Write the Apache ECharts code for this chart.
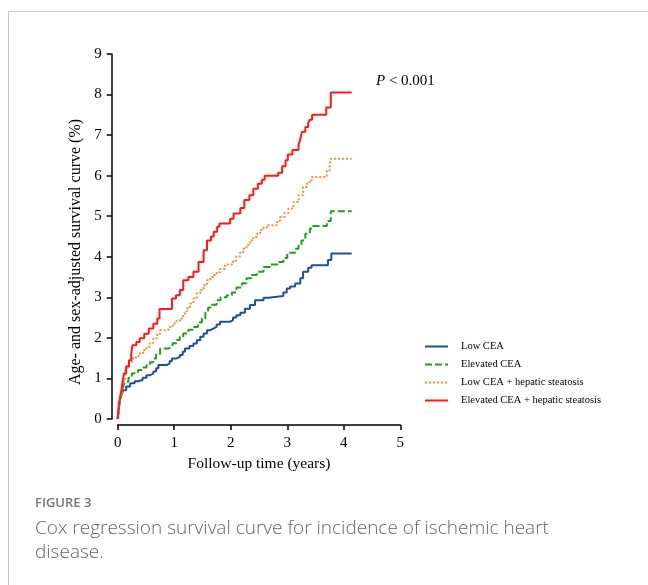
<!DOCTYPE html>
<html>
<head>
<meta charset="utf-8">
<script src="https://cdn.jsdelivr.net/npm/echarts@6/dist/echarts.min.js"></script>
<style>
html,body{margin:0;padding:0;background:#fff;}
#chart{width:648px;height:585px;}
</style>
</head>
<body>
<div id="chart"></div>
<script>
// ---- data ----
var seriesNames = ['Low CEA', 'Elevated CEA', 'Low CEA + hepatic steatosis', 'Elevated CEA + hepatic steatosis'];
var xTicks = [0, 1, 2, 3, 4, 5];
var yTicks = [0, 1, 2, 3, 4, 5, 6, 7, 8, 9];

var lowCEA = [[0,0],[0.02,0.25],[0.04,0.5],[0.07,0.62],[0.1,0.71],[0.15,0.8],[0.22,0.88],[0.3,0.93],[0.36,0.96],[0.44,1.02],[0.51,1.08],[0.57,1.12],[0.63,1.17],[0.68,1.25],[0.72,1.33],[0.87,1.37],[0.92,1.43],[0.96,1.49],[1.03,1.53],[1.1,1.58],[1.15,1.66],[1.19,1.74],[1.27,1.8],[1.34,1.86],[1.4,1.94],[1.46,2.03],[1.52,2.11],[1.58,2.19],[1.64,2.23],[1.69,2.27],[1.75,2.33],[1.81,2.4],[1.99,2.44],[2.04,2.5],[2.1,2.56],[2.17,2.62],[2.25,2.72],[2.34,2.81],[2.43,2.93],[2.58,2.99],[2.67,3.03],[2.93,3.12],[2.99,3.22],[3.05,3.27],[3.14,3.34],[3.23,3.47],[3.28,3.63],[3.37,3.73],[3.43,3.79],[3.72,3.92],[3.78,4.08],[4.14,4.08]];

var elevatedCEA = [[0,0],[0.02,0.25],[0.04,0.45],[0.07,0.63],[0.1,0.8],[0.13,0.92],[0.19,1.02],[0.25,1.13],[0.36,1.21],[0.44,1.27],[0.51,1.33],[0.57,1.4],[0.63,1.49],[0.68,1.6],[0.75,1.74],[0.9,1.78],[0.97,1.87],[1.04,1.95],[1.1,2.03],[1.16,2.11],[1.25,2.2],[1.34,2.27],[1.42,2.38],[1.49,2.48],[1.55,2.62],[1.6,2.75],[1.65,2.82],[1.75,2.93],[1.82,3.0],[1.93,3.05],[2.02,3.12],[2.1,3.24],[2.2,3.35],[2.28,3.47],[2.37,3.55],[2.46,3.63],[2.58,3.75],[2.7,3.81],[2.85,3.87],[2.93,3.97],[3.0,4.1],[3.14,4.2],[3.2,4.3],[3.25,4.4],[3.32,4.57],[3.4,4.7],[3.45,4.76],[3.7,4.88],[3.77,5.12],[4.14,5.12]];

var lowCEASteatosis = [[0,0],[0.02,0.3],[0.05,0.6],[0.09,0.92],[0.13,1.25],[0.2,1.4],[0.25,1.49],[0.32,1.55],[0.39,1.62],[0.45,1.7],[0.51,1.78],[0.57,1.88],[0.63,1.99],[0.7,2.1],[0.75,2.19],[0.87,2.22],[0.93,2.3],[0.98,2.36],[1.04,2.42],[1.1,2.48],[1.16,2.6],[1.22,2.73],[1.28,2.85],[1.34,2.97],[1.4,3.1],[1.46,3.18],[1.52,3.3],[1.58,3.42],[1.64,3.5],[1.69,3.55],[1.75,3.62],[1.81,3.7],[1.9,3.81],[2.02,3.88],[2.09,4.0],[2.16,4.1],[2.22,4.2],[2.28,4.29],[2.34,4.4],[2.4,4.49],[2.46,4.57],[2.52,4.66],[2.58,4.72],[2.64,4.78],[2.81,4.86],[2.87,4.98],[2.95,5.08],[3.02,5.19],[3.11,5.35],[3.2,5.52],[3.28,5.72],[3.35,5.84],[3.43,5.97],[3.7,6.13],[3.75,6.26],[3.77,6.42],[4.14,6.42]];

var elevatedCEASteatosis = [[0,0],[0.02,0.35],[0.05,0.6],[0.07,0.75],[0.09,0.95],[0.11,1.12],[0.15,1.3],[0.2,1.45],[0.24,1.6],[0.26,1.82],[0.33,1.9],[0.39,1.99],[0.47,2.1],[0.55,2.23],[0.63,2.35],[0.7,2.48],[0.74,2.71],[0.96,2.97],[1.03,3.05],[1.1,3.18],[1.16,3.42],[1.25,3.5],[1.34,3.63],[1.43,3.87],[1.52,4.16],[1.58,4.4],[1.65,4.5],[1.7,4.62],[1.76,4.74],[1.8,4.82],[1.99,4.94],[2.05,5.07],[2.17,5.2],[2.24,5.4],[2.33,5.52],[2.4,5.68],[2.48,5.8],[2.55,5.9],[2.6,6.0],[2.84,6.07],[2.91,6.23],[2.97,6.38],[3.01,6.52],[3.09,6.63],[3.2,6.77],[3.23,6.89],[3.26,7.08],[3.32,7.2],[3.37,7.3],[3.4,7.38],[3.44,7.5],[3.69,7.68],[3.77,8.05],[4.14,8.05]];

var pText = '< 0.001';
var figLabel = 'FIGURE 3';
var captionLines = ['Cox regression survival curve for incidence of ischemic heart', 'disease.'];

// ---- chart ----
var serif = '"Liberation Serif", "Times New Roman", serif';
var sans = '"Open Sans", "Noto Sans", sans-serif';
var chart = echarts.init(document.getElementById('chart'), null, {renderer: 'canvas'});

function mkSeries(name, data, color, type) {
  return {
    name: name, type: 'line', data: data, step: 'end',
    showSymbol: false, symbol: 'none', animation: false,
    lineStyle: {color: color, width: 2, type: type},
    itemStyle: {color: color}
  };
}

var option = {
  backgroundColor: '#fff',
  animation: false,
  grid: {left: 117.7, right: 247.7, top: 54, bottom: 166, containLabel: false},
  xAxis: {
    type: 'value', min: xTicks[0], max: xTicks[xTicks.length - 1], interval: 1,
    offset: 6,
    name: 'Follow-up time (years)', nameLocation: 'middle', nameGap: 31,
    nameTextStyle: {fontFamily: serif, fontSize: 15.5, color: '#000'},
    axisLine: {show: true, onZero: false, lineStyle: {color: '#000', width: 1.5}},
    axisTick: {show: true, length: 5, lineStyle: {color: '#000', width: 1.5}},
    axisLabel: {fontFamily: serif, fontSize: 15, color: '#000', margin: 11},
    splitLine: {show: false}
  },
  yAxis: {
    type: 'value', min: yTicks[0], max: yTicks[yTicks.length - 1], interval: 1,
    offset: 6,
    name: 'Age- and sex-adjusted survival curve (%)', nameLocation: 'middle', nameGap: 28,
    nameTextStyle: {fontFamily: serif, fontSize: 16, color: '#000', padding: [0, 31, 0, 0]},
    axisLine: {show: true, onZero: false, lineStyle: {color: '#000', width: 1.5}},
    axisTick: {show: true, length: 5, lineStyle: {color: '#000', width: 1.5}},
    axisLabel: {fontFamily: serif, fontSize: 15, color: '#000', margin: 10},
    splitLine: {show: false}
  },
  legend: {
    orient: 'vertical', left: 424, top: 341, padding: 0,
    itemWidth: 23, itemHeight: 11, itemGap: 7,
    data: seriesNames,
    itemStyle: {opacity: 0},
    textStyle: {fontFamily: serif, fontSize: 10.5, color: '#000', padding: [0, 0, 0, 8]}
  },
  title: [
    {
      left: 376, top: 74, padding: 0,
      text: '{i|P} ' + pText,
      textStyle: {fontFamily: serif, fontSize: 15, fontWeight: 'normal', color: '#000',
        rich: {i: {fontFamily: serif, fontSize: 15, fontStyle: 'italic', color: '#000'}}}
    },
    {
      left: 35, top: 497, padding: 0, text: figLabel,
      textStyle: {fontFamily: sans, fontSize: 13, fontWeight: 600, color: '#777'}
    },
    {
      left: 35, top: 517, padding: 0, text: captionLines.join('\n'),
      textStyle: {fontFamily: sans, fontSize: 19, fontWeight: 300, color: '#666', lineHeight: 24}
    }
  ],
  graphic: [
    {type: 'polyline', silent: true, shape: {points: [[8.5, 585], [8.5, 11.5], [648, 11.5]]},
     style: {stroke: '#c8c8c8', lineWidth: 1, fill: null}}
  ],
  series: [
    mkSeries(seriesNames[0], lowCEA, '#1f4fa3', 'solid'),
    mkSeries(seriesNames[1], elevatedCEA, '#21a021', [7, 3]),
    mkSeries(seriesNames[2], lowCEASteatosis, '#ff8a3c', [2, 2]),
    mkSeries(seriesNames[3], elevatedCEASteatosis, '#ff1a1a', 'solid')
  ]
};
chart.setOption(option);
</script>
</body>
</html>
